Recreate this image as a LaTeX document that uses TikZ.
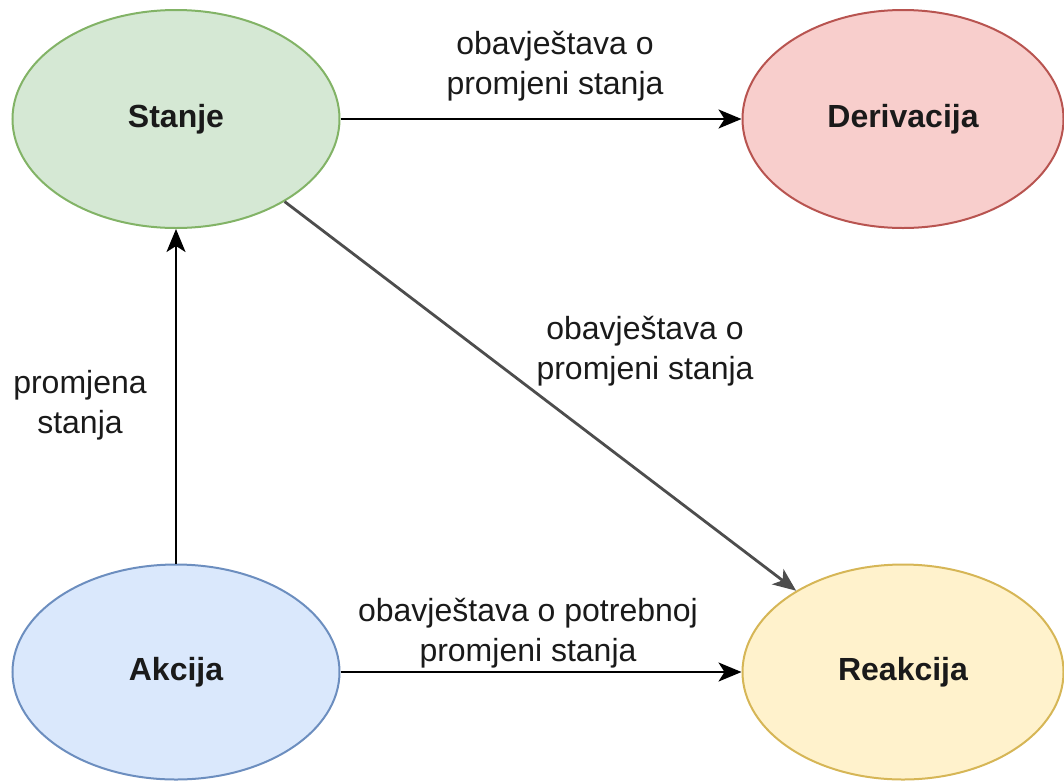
\documentclass[tikz,border=0pt]{standalone}
\usepackage{fontspec}
\setmainfont{Liberation Sans}
\usetikzlibrary{shapes.geometric,arrows.meta}

\definecolor{greenfill}{HTML}{D5E8D4}\definecolor{greenline}{HTML}{82B366}
\definecolor{redfill}{HTML}{F8CECC}\definecolor{redline}{HTML}{B85450}
\definecolor{bluefill}{HTML}{DAE8FC}\definecolor{blueline}{HTML}{6C8EBF}
\definecolor{yellowfill}{HTML}{FFF2CC}\definecolor{yellowline}{HTML}{D6B656}
\definecolor{textdark}{HTML}{1A1A1A}
\definecolor{edgegray}{HTML}{4D4D4D}

\tikzset{
  statenode/.style={ellipse, draw, line width=2pt, minimum width=327pt,
    minimum height=218pt, inner sep=0pt, text=textdark,
    font=\fontsize{32}{40}\selectfont\bfseries},
  edgelabel/.style={align=center, text=textdark, inner sep=0pt,
    font=\fontsize{32}{40}\selectfont},
  flow/.style={line width=2.2pt, -{Stealth[length=23pt,width=19pt,inset=6pt]}},
}

\begin{document}
\begin{tikzpicture}[x=1pt,y=-1pt]
  \useasboundingbox (0,0) rectangle (1064,782);

  % the four states
  \node[statenode, fill=greenfill,  draw=greenline]  (stanje)     at (176,119) {Stanje};
  \node[statenode, fill=redfill,    draw=redline, minimum width=321pt] (derivacija) at (903,119) {Derivacija};
  \node[statenode, fill=bluefill,   draw=blueline, minimum height=215pt]  (akcija)     at (176,672) {Akcija};
  \node[statenode, fill=yellowfill, draw=yellowline, minimum width=321pt, minimum height=215pt] (reakcija)   at (903,672) {Reakcija};

  % transitions
  \draw[flow] (stanje) -- (derivacija);
  \draw[flow, draw=edgegray, line width=2.8pt] (stanje) -- (reakcija);
  \draw[flow] (akcija) -- (stanje);
  \draw[flow] (akcija) -- (reakcija);

  % labels
  \node[edgelabel] (lblderiv) at (555,66) {obavještava o\\promjeni stanja};
  \node[edgelabel] (lbldiag)  at (645,351) {obavještava o\\promjeni stanja};
  \node[edgelabel] (lblakcija) at (80,405) {promjena\\stanja};
  \node[edgelabel] (lblreak)  at (528,633) {obavještava o potrebnoj\\promjeni stanja};
\end{tikzpicture}
\end{document}
